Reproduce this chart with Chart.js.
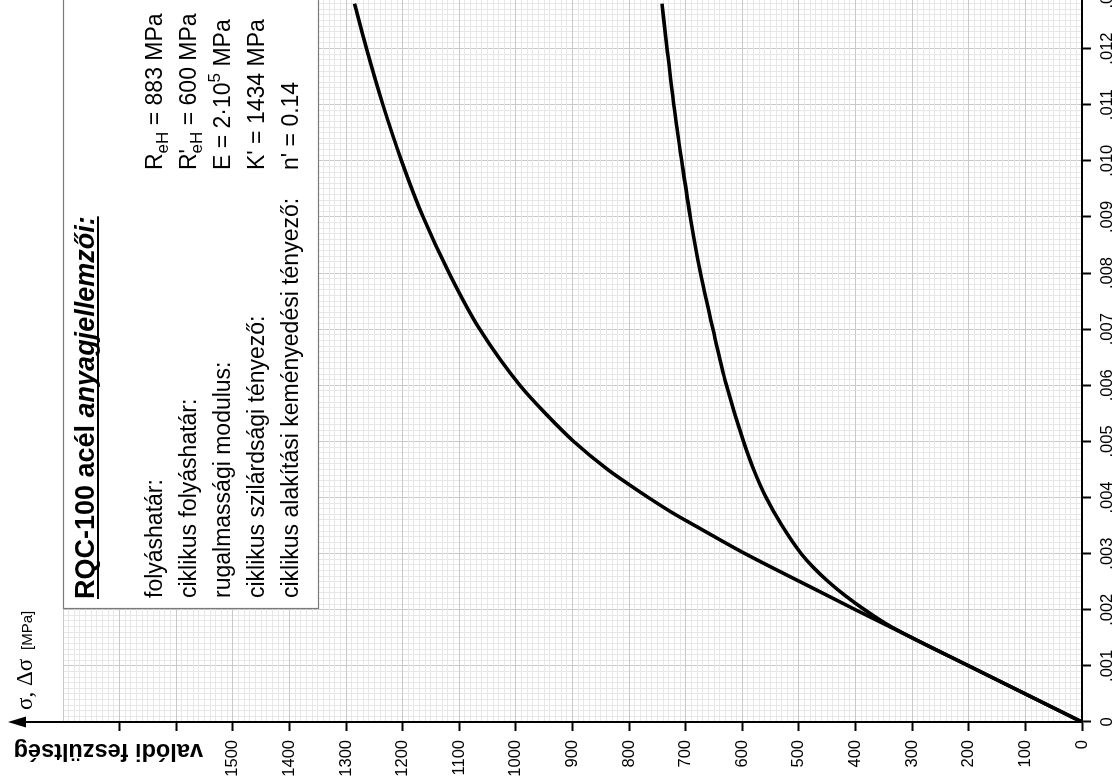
<!DOCTYPE html>
<html lang="hu">
<head>
<meta charset="utf-8">
<title>RQC-100 acél – valódi feszültség</title>
<script src="https://cdn.jsdelivr.net/npm/chart.js@4.4.1/dist/chart.umd.min.js"></script>
<style>
  html, body { margin: 0; padding: 0; background: #fff; width: 1120px; height: 780px; overflow: hidden; }
  /* the sheet is drawn upright, then turned a quarter left like the scanned page */
  #sheet { position: absolute; left: 0; top: 0; width: 840px; height: 1120px;
           transform-origin: 0 0; transform: translate(0, 780px) rotate(-90deg); }
  #sheet canvas { display: block; width: 840px; height: 1120px; }
</style>
</head>
<body>
<div id="sheet"><canvas id="stressChart" width="840" height="1120"></canvas></div>
<script>
/* ─── Data ─── */
const strainMono = [0, 0.001, 0.002, 0.0025, 0.003, 0.00325, 0.0035, 0.00375, 0.004, 0.00425, 0.0045, 0.005, 0.0055, 0.006, 0.007, 0.008, 0.009, 0.010, 0.011, 0.012, 0.0128];
const stressMono = [0, 200, 400, 498, 595, 640, 684, 727, 766, 803, 838, 898, 948, 993, 1064, 1118, 1164, 1202, 1235, 1264, 1285];

const strainCyc = [0, 0.001, 0.0015, 0.00175, 0.002, 0.00225, 0.0025, 0.00275, 0.003, 0.0035, 0.004, 0.0045, 0.005, 0.006, 0.007, 0.008, 0.009, 0.010, 0.011, 0.012, 0.0128];
const stressCyc = [0, 200, 300, 346, 384, 418, 448, 474, 496, 530, 558, 580, 598, 628, 652, 674, 692, 707, 721, 733, 742];

const strainLabels = ["0", ".001", ".002", ".003", ".004", ".005", ".006", ".007", ".008", ".009", ".010", ".011", ".012", ".013"];
const stressLabels = ["0", "100", "200", "300", "400", "500", "600", "700", "800", "900", "1000", "1100", "1200", "1300", "1400", "1500"];

const materialRows = [
  "folyáshatár:",
  "ciklikus folyáshatár:",
  "rugalmassági modulus:",
  "ciklikus szilárdsági tényező:",
  "ciklikus alakítási keményedési tényező:",
];
const materialValues = [
  [{ t: "R" }, { t: "eH", sub: true }, { t: " = 883 MPa" }],
  [{ t: "R" }, { t: "'", stay: true }, { t: "eH", sub: true }, { t: " = 600 MPa" }],
  [{ t: "E = 2·10" }, { t: "5", sup: true }, { t: " MPa" }],
  [{ t: "K' = 1434 MPa" }],
  [{ t: "n' = 0.14" }],
];

const SANS = '"Liberation Sans", Arial, Helvetica, sans-serif';
Chart.defaults.font.family = SANS;
Chart.defaults.color = "#000";

const pairUp = (xs, ys) => xs.map((x, i) => ({ x: x, y: ys[i] }));
const isStrainMajor = v => Math.abs(v * 1000 - Math.round(v * 1000)) < 1e-6;
const isStressMajor = v => Math.abs(v % 100) < 1e-6;

/* ─── helpers for the text block ─── */
function drawRich(ctx, x, y, parts, size) {
  parts.forEach(p => {
    const fs = (p.sub || p.sup) ? Math.round(size * 0.72) : size;
    ctx.font = `${fs}px ${SANS}`;
    const dy = p.sub ? size * 0.28 : p.sup ? -size * 0.42 : 0;
    ctx.fillText(p.t, x, y + dy);
    if (!p.stay) x += ctx.measureText(p.t).width;
  });
}

/* ─── Decorations: material box, arrow, axis titles ─── */
const sheetDecor = {
  id: "sheetDecor",
  beforeDatasetsDraw(chart) {
    const ctx = chart.ctx;
    const { left, top } = chart.chartArea;
    const boxX = left + 113, boxH = 255;
    ctx.save();
    ctx.fillStyle = "#fff";
    ctx.fillRect(boxX, top, 900, boxH);
    ctx.strokeStyle = "#7a7a7a";
    ctx.lineWidth = 1.2;
    ctx.strokeRect(boxX + 0.5, top + 0.5, 900, boxH);

    // title
    ctx.fillStyle = "#000";
    ctx.textBaseline = "alphabetic";
    const tx = boxX + 10, ty = top + 31;
    ctx.font = `bold 27px ${SANS}`;
    const part1 = "RQC-100 acél ";
    ctx.fillText(part1, tx, ty);
    const w1 = ctx.measureText(part1).width;
    ctx.font = `italic bold 27px ${SANS}`;
    const part2 = "anyagjellemzői:";
    ctx.fillText(part2, tx + w1, ty);
    const w2 = ctx.measureText(part2).width;
    ctx.fillRect(tx, ty + 3, w1 + w2, 2);

    // rows
    materialRows.forEach((row, i) => {
      const y = top + 99 + i * 34;
      ctx.font = `23px ${SANS}`;
      ctx.fillText(row, tx + 1, y);
      drawRich(ctx, left + 552, y, materialValues[i], 23);
    });
    ctx.restore();
  },
  afterDraw(chart) {
    const ctx = chart.ctx;
    const { left, top } = chart.chartArea;
    ctx.save();
    // stress axis runs on past the grid, ending in an arrow
    ctx.strokeStyle = "#000";
    ctx.fillStyle = "#000";
    ctx.lineWidth = 2;
    ctx.beginPath();
    ctx.moveTo(left, top);
    ctx.lineTo(left, 24);
    ctx.stroke();
    ctx.beginPath();
    ctx.moveTo(left, 8);
    ctx.lineTo(left - 5.5, 26);
    ctx.lineTo(left + 5.5, 26);
    ctx.closePath();
    ctx.fill();

    // σ, Δσ [MPa]
    ctx.textBaseline = "alphabetic";
    ctx.font = '23px "Liberation Serif", "DejaVu Serif", serif';
    const sym = "σ, Δσ";
    ctx.fillText(sym, left + 12, 32);
    const ws = ctx.measureText(sym).width;
    ctx.font = `15px ${SANS}`;
    ctx.fillText("[MPa]", left + 12 + ws + 9, 32);

    // valódi feszültség (vertical)
    ctx.translate(30, 203);
    ctx.rotate(-Math.PI / 2);
    ctx.font = `bold 23.5px ${SANS}`;
    ctx.textAlign = "left";
    ctx.textBaseline = "middle";
    ctx.fillText("valódi feszültség", 0, 0);
    ctx.restore();
  },
};

/* ─── Chart ─── */
function initStressChart() {
  const canvas = document.getElementById("stressChart");
  const lineStyle = {
    borderColor: "#000",
    borderWidth: 3.6,
    pointRadius: 0,
    fill: false,
    cubicInterpolationMode: "monotone",
  };

  new Chart(canvas, {
    type: "line",
    data: {
      datasets: [
        Object.assign({ label: "monoton", data: pairUp(strainMono, stressMono) }, lineStyle),
        Object.assign({ label: "ciklikus", data: pairUp(strainCyc, stressCyc) }, lineStyle),
      ],
    },
    options: {
      responsive: false,
      animation: false,
      devicePixelRatio: 1,
      layout: { padding: { top: 63, left: 0, right: 0, bottom: 0 } },
      plugins: { legend: { display: false }, tooltip: { enabled: false } },
      scales: {
        x: {
          type: "linear",
          min: 0, max: 0.01381,
          afterFit: s => { s.height = 38; },
          border: { color: "#000", width: 2 },
          grid: {
            color: c => isStrainMajor(c.tick.value) ? "#c9c9c9" : "#e7e7e7",
            lineWidth: 1,
            tickColor: c => isStrainMajor(c.tick.value) ? "#000" : "rgba(0,0,0,0)",
            tickLength: 9,
            tickWidth: 2,
          },
          ticks: {
            stepSize: 0.0001,
            autoSkip: false,
            maxRotation: 0, minRotation: 0,
            padding: 7,
            font: { size: 16.5 },
            callback: v => isStrainMajor(v) ? (strainLabels[Math.round(v * 1000)] || "") : "",
          },
        },
        y: {
          type: "linear",
          min: 0, max: 1800,
          afterFit: s => { s.width = 58; },
          border: { color: "#000", width: 2 },
          grid: {
            color: c => isStressMajor(c.tick.value) ? "#c9c9c9" : "#e7e7e7",
            lineWidth: 1,
            tickColor: c => (isStressMajor(c.tick.value) && c.tick.value < 1800) ? "#000" : "rgba(0,0,0,0)",
            tickLength: 9,
            tickWidth: 2,
          },
          ticks: {
            stepSize: 10,
            autoSkip: false,
            padding: 9,
            font: { size: 16.5 },
            callback: v => isStressMajor(v) ? (stressLabels[Math.round(v / 100)] || "") : "",
          },
        },
      },
    },
    plugins: [sheetDecor],
  });
}

document.addEventListener("DOMContentLoaded", initStressChart);
</script>
</body>
</html>
